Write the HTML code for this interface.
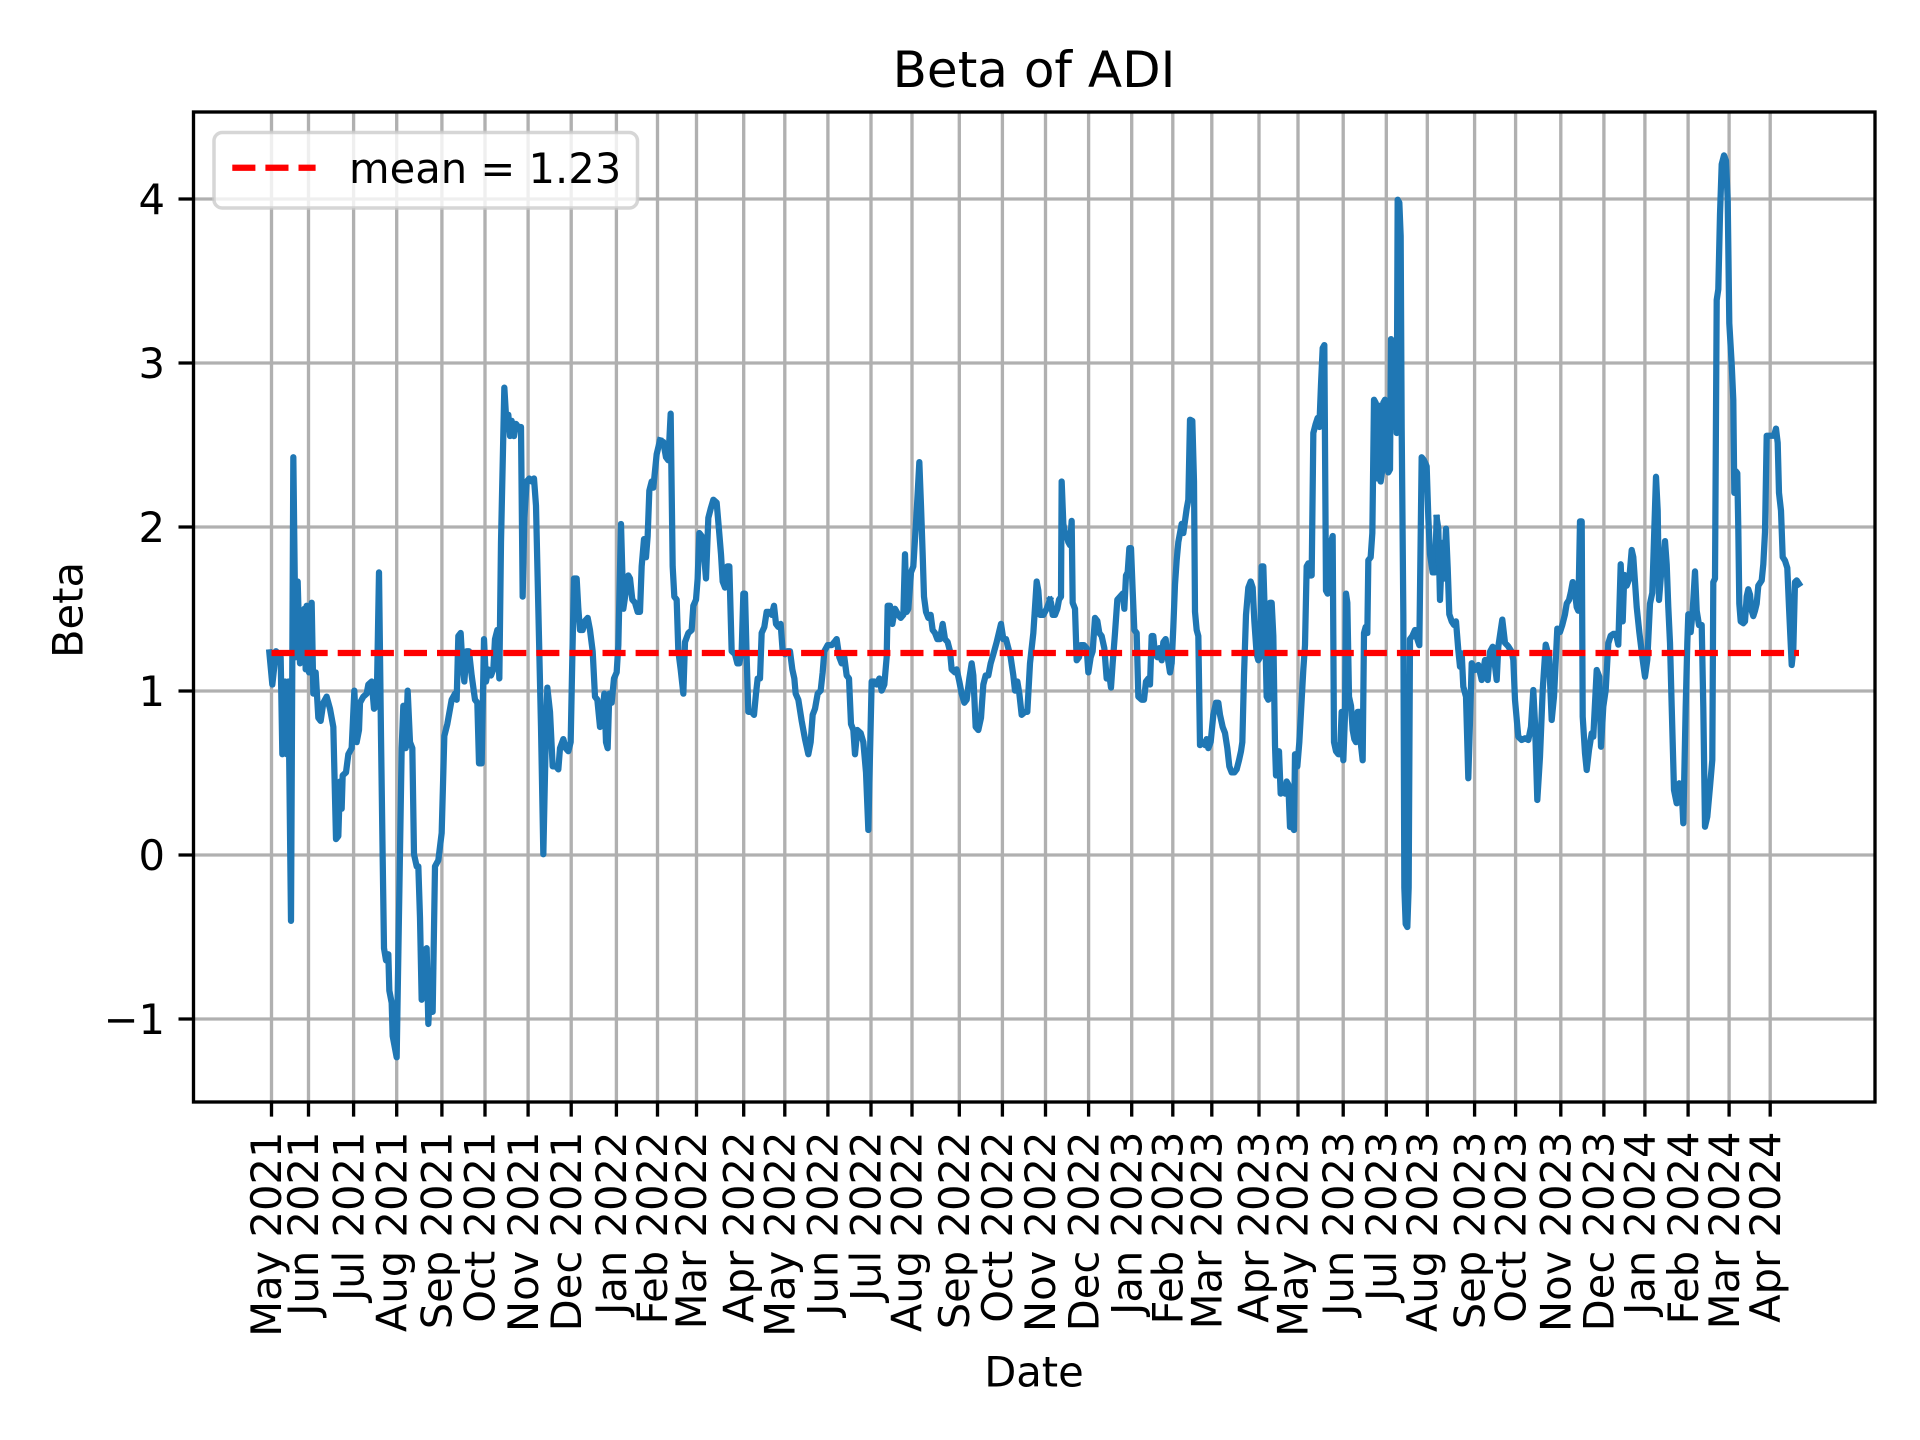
<!DOCTYPE html>
<html><head><meta charset="utf-8"><style>
html,body{margin:0;padding:0;background:#fff;}
svg{display:block;}
text{font-family:"DejaVu Sans","Liberation Sans",sans-serif;fill:#000;}
</style></head><body>
<svg width="1920" height="1440" viewBox="0 0 1920 1440" xmlns="http://www.w3.org/2000/svg">
<rect x="0" y="0" width="1920" height="1440" fill="#fff"/>
<!-- grid -->
<g stroke="#b0b0b0" stroke-width="3.33" fill="none">
<path d="M271.5 112V1102M308.5 112V1102M353.6 112V1102M396.7 112V1102M441.9 112V1102M485 112V1102M528.1 112V1102M571.2 112V1102M616.4 112V1102M657.5 112V1102M696.5 112V1102M743.7 112V1102M784.8 112V1102M827.9 112V1102M871 112V1102M912 112V1102M959.3 112V1102M1002.4 112V1102M1045.5 112V1102M1088.6 112V1102M1131.7 112V1102M1172.8 112V1102M1211.8 112V1102M1259 112V1102M1298 112V1102M1343.2 112V1102M1386.3 112V1102M1427.3 112V1102M1474.6 112V1102M1515.6 112V1102M1560.8 112V1102M1603.9 112V1102M1644.9 112V1102M1688.1 112V1102M1729.1 112V1102M1770.2 112V1102"/>
<path d="M193 199H1875M193 363H1875M193 527H1875M193 691H1875M193 855H1875M193 1019H1875"/>
</g>
<!-- series -->
<g fill="none" stroke="#1f77b4" stroke-width="6.25" stroke-linejoin="round" stroke-linecap="square">
<polyline vector-effect="non-scaling-stroke" transform="translate(260,130) scale(0.333333,0.606061)" points="28,862 37,915 48,860 62,870 67,1030 75,910 80,1030 85,910 93,1305 100,540 107,870 113,745 120,880 127,875 133,790 137,890 140,785 147,895 155,780 160,930 167,895 175,970 182,975 190,945 200,935 210,955 220,985 228,1170 235,1165 240,1075 245,1120 248,1065 258,1060 265,1030 275,1020 283,925 290,1010 297,990 300,945 310,935 320,930 325,915 335,910 342,955 350,950 357,730 363,1000 368,1200 372,1350 378,1370 385,1360 388,1420 395,1440 398,1495 410,1530 425,1020 430,950 437,1020 443,925 450,1010 457,1020 462,1195 470,1215 475,1215 480,1300 485,1435 492,1355 500,1350 505,1475 512,1390 518,1455 525,1215 535,1205 545,1160 553,1000 562,980 575,940 585,930 590,940 595,835 602,830 607,880 613,910 620,860 627,860 635,900 645,940 652,945 657,1045 665,1045 672,840 678,910 685,890 693,900 700,890 705,840 712,825 718,905 723,680 733,425 740,490 745,470 750,505 755,480 762,505 768,485 775,490 783,490 788,770 793,640 800,580 808,575 815,580 822,575 828,620 835,790 843,985 850,1195 857,1010 862,920 870,960 878,1050 888,1050 895,1055 900,1020 910,1005 917,1020 925,1025 932,1010 937,870 942,740 950,740 955,790 960,825 968,825 975,810 983,805 990,825 998,860 1005,935 1012,940 1020,985 1027,965 1033,930 1038,1010 1043,1020 1048,930 1055,945 1062,905 1070,895 1075,850 1083,650 1090,790 1098,760 1105,735 1110,740 1117,775 1125,780 1133,795 1140,795 1145,720 1152,675 1158,705 1163,670 1168,595 1175,580 1180,590 1190,535 1200,512"/>
<polyline vector-effect="non-scaling-stroke" transform="translate(650,130) scale(0.333333,0.606061)" points="30,515 40,515 48,540 55,545 62,468 68,720 73,770 80,775 85,860 92,890 100,930 105,845 115,830 125,825 130,785 138,775 143,740 148,665 155,670 162,700 168,740 175,640 182,625 190,610 200,615 207,660 213,700 218,745 225,755 232,720 238,720 245,860 255,865 262,880 268,880 275,860 280,765 285,765 290,870 295,960 305,960 312,965 318,930 323,905 330,905 335,830 343,820 350,795 357,795 365,800 372,785 378,815 385,820 392,815 398,860 405,865 412,860 420,860 427,890 433,905 437,930 445,940 455,975 465,1005 475,1030 482,1010 488,965 495,955 503,930 512,925 518,895 523,860 533,850 545,850 553,845 560,840 568,870 575,880 583,870 590,900 597,905 603,980 610,990 615,1030 622,990 632,995 640,1010 648,1060 655,1155 660,1030 665,910 673,910 680,915 688,905 695,925 703,915 710,870 713,785 720,785 727,815 735,790 745,800 752,805 760,800 765,700 770,795 775,790 783,730 790,720 800,630 808,548 813,620 818,700 822,770 828,795 835,805 842,800 848,825 855,830 862,840 870,840 878,815 885,840 893,845 900,860 905,890 915,895 920,890 928,910 935,930 943,945 950,940 958,905 965,880 970,900 977,985 985,990 993,970 1000,915 1007,900 1015,900 1022,880 1030,865 1040,845 1053,815 1060,840 1068,840 1075,855 1082,870 1090,900 1095,925 1102,910 1108,930 1115,965 1125,960 1132,960 1140,880 1150,830 1160,745 1165,760 1170,800 1180,800 1190,790 1200,775"/>
<polyline vector-effect="non-scaling-stroke" transform="translate(1040,130) scale(0.333333,0.606061)" points="30,775 33,780 38,800 45,800 52,790 57,775 63,770 65,580 70,650 75,665 80,670 85,680 90,685 95,645 98,780 105,790 110,875 117,870 123,850 132,850 140,855 145,895 152,870 158,860 165,805 172,810 178,830 185,835 193,855 200,905 207,895 213,920 218,880 225,830 232,775 240,770 248,765 253,790 258,735 263,730 268,690 273,690 278,760 283,825 290,830 295,935 305,940 312,940 318,910 325,905 330,915 335,835 340,835 345,865 352,870 358,855 365,875 370,845 377,840 383,870 390,895 395,880 400,820 405,750 410,710 415,680 420,665 425,650 430,665 435,645 440,625 445,610 450,478 457,480 462,580 465,795 470,825 475,835 480,1015 488,1010 495,1015 500,1005 505,1020 512,1010 520,965 528,945 535,945 540,965 548,985 555,995 562,1020 568,1050 575,1060 583,1060 590,1055 597,1040 603,1025 607,1010 612,900 618,800 625,755 632,745 638,755 643,810 650,865 655,875 660,870 665,720 670,720 675,810 680,935 685,940 690,780 695,780 700,835 705,1015 708,1065 712,1025 717,1025 722,1095 728,1090 735,1095 740,1075 745,1080 750,1150 757,1150 762,1155 765,1030 772,1050 778,1010 785,940 790,890 795,850 800,720 805,715 810,735 815,735 820,500 827,485 833,475 838,490 843,420 848,360 853,355 858,760 863,765 868,750 873,680 878,670 882,1010 888,1025 895,1030 900,1030 905,960 910,1040 915,965 918,765 922,780 927,935 933,950 938,990 943,1005 948,1010 953,960 958,960 963,1015 968,1040 972,830 977,820 982,830 985,710 992,705 997,665 1002,445 1007,450 1012,575 1017,455 1022,580 1027,560 1030,450 1035,445 1040,475 1045,565 1050,560 1053,345 1058,350 1062,490 1066,380 1070,500 1073,115 1078,120 1082,175 1085,490 1090,800 1093,1250 1097,1310 1102,1315 1106,1250 1110,840 1117,835 1125,825 1132,840 1138,850 1145,540 1152,545 1160,555 1165,640 1170,700 1178,730 1185,730 1190,640"/>
<polyline points="1436.7,517.9 1438.3,528.6 1440,600 1442.3,542.9 1444,578.6 1446,528.6 1447.7,567.9 1449.3,614.3 1451.7,621.4 1454,625 1456,621.4 1458.3,650 1460,666.7 1461.7,653.3 1463.3,686.7 1466,696.7 1468.3,778.3 1471.7,663.3 1475,670 1478.3,665 1481.7,680 1485,660 1487.7,680 1490,651.7 1492.7,646.7 1496.7,680 1498.3,646.7 1502.3,619.6 1505,642.9 1508.3,646.4 1511.7,651.8 1513.3,660 1515,700 1518.3,736.7 1521.7,740 1525,738.3 1528.3,740 1531,726.7 1533.3,690 1535,723.3 1537.3,800 1540,756.7 1542.7,690 1545.7,644.6 1549,657 1551.7,720 1554,696.7 1557.3,628.6 1560,632 1562.3,625 1565,614.3 1566.7,603.6 1569,600 1570.7,592.9 1572.7,582.1 1575,592.9 1576.7,607.1 1578.3,610.7 1580,521.4 1581.7,521.4 1582.7,716.7 1585,753.3 1586.7,770 1589,750 1591.7,733.3 1593.3,736.7 1596.7,670 1599.3,676.7 1601,746.7 1603.3,706.7 1605.7,690 1608.3,643.3 1610.7,635.7 1613.3,633.9 1616,633.9 1618.3,644.6 1620.7,564.3 1622.7,621.4 1624.3,575 1626.7,585.7 1629.3,578.6 1631.7,550 1633.3,557.1 1636.7,607.1 1639.3,632.1 1642.7,660 1645,676.7 1647.3,660 1650,603.6 1652.3,592.9 1654,539.3 1656,476.8 1657.7,510.7 1659,600 1661,575 1663.3,564.3 1665,541.1 1666.7,564.3 1668.3,607.1 1670,642.9 1671.7,706.7 1674,790 1676.7,803.3 1679.3,783.3 1681.7,790 1683.3,823.3 1685.7,706.7 1687.3,643.3 1688.3,614.3 1690.7,632.1 1692.7,610.7 1695,571.4 1696.7,610.7 1699,625 1701.7,625 1703.3,706.7 1705,826.7 1707.3,816.7 1710,786.7 1712.3,760 1713.3,582.1 1715,578.6 1716.7,300 1718.3,289.3 1720,214.3 1721.7,164.3 1724,155.4 1726,160.7 1727.7,200 1729.3,323.2 1731.7,364.3 1733.3,400 1734.3,492.9 1736,471.4 1737.3,473.2 1738.3,528.6 1739.3,603.6 1740.7,621.4 1743.3,623.2 1745,621.4 1746.7,596.4 1748.3,589.3 1750,594.6 1751.7,610.7 1753.3,616.1 1755,610.7 1756.7,603.6 1758.3,585.7 1761.7,580.4 1763.3,564.3 1765,532.1 1766.7,435.7 1769,435.7 1771.7,435.7 1774,435.7 1776,428.6 1777.7,442.9 1779,492.9 1781,510.7 1782.7,557.1 1785,560.7 1787.3,567.9 1789,607.1 1791.7,665 1793.3,650 1795,582.1 1796.7,580.4 1799,583.9"/>
</g>
<!-- mean line -->
<line x1="271.5" y1="653" x2="1799" y2="653" stroke="#ff0000" stroke-width="6.25" stroke-dasharray="23.1 10"/>
<!-- spines -->
<rect x="193.5" y="112" width="1681.5" height="990" fill="none" stroke="#000" stroke-width="3.33"/>
<!-- y ticks -->
<g stroke="#000" stroke-width="3.33">
<path d="M178.5 199H193.5M178.5 363H193.5M178.5 527H193.5M178.5 691H193.5M178.5 855H193.5M178.5 1019H193.5"/>
<path d="M271.5 1102V1116.6M308.5 1102V1116.6M353.6 1102V1116.6M396.7 1102V1116.6M441.9 1102V1116.6M485 1102V1116.6M528.1 1102V1116.6M571.2 1102V1116.6M616.4 1102V1116.6M657.5 1102V1116.6M696.5 1102V1116.6M743.7 1102V1116.6M784.8 1102V1116.6M827.9 1102V1116.6M871 1102V1116.6M912 1102V1116.6M959.3 1102V1116.6M1002.4 1102V1116.6M1045.5 1102V1116.6M1088.6 1102V1116.6M1131.7 1102V1116.6M1172.8 1102V1116.6M1211.8 1102V1116.6M1259 1102V1116.6M1298 1102V1116.6M1343.2 1102V1116.6M1386.3 1102V1116.6M1427.3 1102V1116.6M1474.6 1102V1116.6M1515.6 1102V1116.6M1560.8 1102V1116.6M1603.9 1102V1116.6M1644.9 1102V1116.6M1688.1 1102V1116.6M1729.1 1102V1116.6M1770.2 1102V1116.6"/>
</g>
<g font-size="41.67" text-anchor="end">
<text x="165" y="214">4</text>
<text x="165" y="378">3</text>
<text x="165" y="542">2</text>
<text x="165" y="706">1</text>
<text x="165" y="870">0</text>
<text x="165" y="1034">−1</text>
</g>
<g font-size="41.67" text-anchor="end">
<text transform="translate(281.2,1131.5) rotate(-90)">May 2021</text>
<text transform="translate(318.2,1131.5) rotate(-90)">Jun 2021</text>
<text transform="translate(363.3,1131.5) rotate(-90)">Jul 2021</text>
<text transform="translate(406.4,1131.5) rotate(-90)">Aug 2021</text>
<text transform="translate(451.6,1131.5) rotate(-90)">Sep 2021</text>
<text transform="translate(494.7,1131.5) rotate(-90)">Oct 2021</text>
<text transform="translate(537.8,1131.5) rotate(-90)">Nov 2021</text>
<text transform="translate(580.9,1131.5) rotate(-90)">Dec 2021</text>
<text transform="translate(626.1,1131.5) rotate(-90)">Jan 2022</text>
<text transform="translate(667.2,1131.5) rotate(-90)">Feb 2022</text>
<text transform="translate(706.2,1131.5) rotate(-90)">Mar 2022</text>
<text transform="translate(753.4,1131.5) rotate(-90)">Apr 2022</text>
<text transform="translate(794.5,1131.5) rotate(-90)">May 2022</text>
<text transform="translate(837.6,1131.5) rotate(-90)">Jun 2022</text>
<text transform="translate(880.7,1131.5) rotate(-90)">Jul 2022</text>
<text transform="translate(921.7,1131.5) rotate(-90)">Aug 2022</text>
<text transform="translate(969,1131.5) rotate(-90)">Sep 2022</text>
<text transform="translate(1012.1,1131.5) rotate(-90)">Oct 2022</text>
<text transform="translate(1055.2,1131.5) rotate(-90)">Nov 2022</text>
<text transform="translate(1098.3,1131.5) rotate(-90)">Dec 2022</text>
<text transform="translate(1141.4,1131.5) rotate(-90)">Jan 2023</text>
<text transform="translate(1182.5,1131.5) rotate(-90)">Feb 2023</text>
<text transform="translate(1221.5,1131.5) rotate(-90)">Mar 2023</text>
<text transform="translate(1268.7,1131.5) rotate(-90)">Apr 2023</text>
<text transform="translate(1307.7,1131.5) rotate(-90)">May 2023</text>
<text transform="translate(1352.9,1131.5) rotate(-90)">Jun 2023</text>
<text transform="translate(1396,1131.5) rotate(-90)">Jul 2023</text>
<text transform="translate(1437,1131.5) rotate(-90)">Aug 2023</text>
<text transform="translate(1484.3,1131.5) rotate(-90)">Sep 2023</text>
<text transform="translate(1525.3,1131.5) rotate(-90)">Oct 2023</text>
<text transform="translate(1570.5,1131.5) rotate(-90)">Nov 2023</text>
<text transform="translate(1613.6,1131.5) rotate(-90)">Dec 2023</text>
<text transform="translate(1654.6,1131.5) rotate(-90)">Jan 2024</text>
<text transform="translate(1697.8,1131.5) rotate(-90)">Feb 2024</text>
<text transform="translate(1738.8,1131.5) rotate(-90)">Mar 2024</text>
<text transform="translate(1779.9,1131.5) rotate(-90)">Apr 2024</text>
</g>
<!-- axis labels and title -->
<text x="1034" y="1386.5" font-size="41.67" text-anchor="middle">Date</text>
<text transform="translate(82.5,610) rotate(-90)" font-size="41.67" text-anchor="middle">Beta</text>
<text x="1034" y="87" font-size="50" text-anchor="middle">Beta of ADI</text>
<!-- legend -->
<rect x="214" y="132.5" width="423.5" height="75.5" rx="8.3" ry="8.3" fill="#ffffff" fill-opacity="0.8" stroke="#cccccc" stroke-opacity="0.8" stroke-width="3.5"/>
<line x1="232.3" y1="167.7" x2="315.6" y2="167.7" stroke="#ff0000" stroke-width="6.25" stroke-dasharray="23.1 10"/>
<text x="349" y="183" font-size="41.67">mean = 1.23</text>
</svg>
</body></html>
